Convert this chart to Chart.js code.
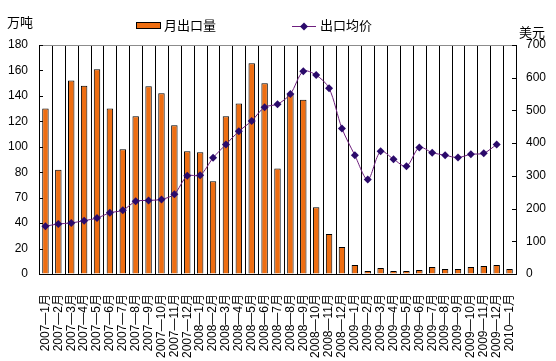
<!DOCTYPE html>
<html>
<head>
<meta charset="utf-8">
<script src="https://cdn.jsdelivr.net/npm/chart.js@4.4.1/dist/chart.umd.min.js"></script>
<style>
  html, body { margin: 0; padding: 0; background: #fff; }
  #wrap { width: 556px; height: 361px; position: relative; }
</style>
</head>
<body>
<div id="wrap"><canvas id="exportChart"></canvas></div>
<script>
// months on the x axis
const months = [
    '2007—1月', '2007—2月', '2007—3月', '2007—4月', '2007—5月', '2007—6月',
    '2007—7月', '2007—8月', '2007—9月', '2007—10月', '2007—11月', '2007—12月',
    '2008—1月', '2008—2月', '2008—3月', '2008—4月', '2008—5月', '2008—6月',
    '2008—7月', '2008—8月', '2008—9月', '2008—10月', '2008—11月', '2008—12月',
    '2009—1月', '2009—2月', '2009—3月', '2009—4月', '2009—5月', '2009—6月',
    '2009—7月', '2009—8月', '2009—9月', '2009—10月', '2009—11月', '2009—12月',
    '2010—1月'
];

// 月出口量 (万吨)
const volume = [
    130, 82, 152, 148, 161, 130, 98, 124, 147.5, 142, 117, 96.5,
    95.7, 73, 124, 134, 165.6, 150, 83, 141.5, 137, 52.4, 31.4, 21.2,
    7, 2.4, 4.7, 2.4, 2.4, 3.1, 5.5, 3.9, 3.9, 5.5, 6.3, 7, 3.9
];

// 出口均价 (美元)
const price = [
    146, 153, 156, 163, 171, 187, 195, 222, 225, 228, 244, 300,
    302, 355, 396, 436, 468, 510, 519, 550, 620, 608, 568, 445,
    363, 289, 375, 351, 329, 387, 371, 363, 356, 366, 369, 396, null
];

// left axis tick labels (the picture shows 70 in the 60 slot)
const leftTicks = [0, 20, 40, 60, 80, 100, 120, 140, 160, 180];
const leftTickLabels = ['0', '20', '40', '70', '80', '100', '120', '140', '160', '180'];
const rightTicks = [0, 100, 200, 300, 400, 500, 600, 700];

const FONT = '"Liberation Sans", Arial, "Noto Sans CJK SC", sans-serif';
const BAR_COLOR = '#EE6E12';
const LINE_COLOR = '#6E1F7E';
const POINT_COLOR = '#2B0A6B';

// vertical category lines behind the bars
const gridPlugin = {
    id: 'catGrid',
    beforeDatasetsDraw(chart) {
        const ctx = chart.ctx;
        const area = chart.chartArea;
        const n = chart.data.labels.length;
        const step = (area.right - area.left) / n;
        ctx.save();
        ctx.strokeStyle = '#000';
        ctx.lineWidth = 1;
        ctx.beginPath();
        for (let i = 1; i < n; i++) {
            const px = Math.round(area.left + i * step) + 0.5;
            ctx.moveTo(px, area.top);
            ctx.lineTo(px, area.bottom);
        }
        ctx.stroke();
        ctx.restore();
    }
};

// frame, inner ticks, unit labels and legend
const decorPlugin = {
    id: 'decor',
    afterDraw(chart) {
        const ctx = chart.ctx;
        const area = chart.chartArea;
        const yL = chart.scales.y;
        const yR = chart.scales.y1;
        ctx.save();

        // top line
        ctx.strokeStyle = '#8c8c8c';
        ctx.lineWidth = 1;
        ctx.beginPath();
        ctx.moveTo(area.left, area.top + 0.5);
        ctx.lineTo(area.right, area.top + 0.5);
        ctx.stroke();

        // inner ticks on both y axes
        ctx.strokeStyle = '#000';
        ctx.beginPath();
        leftTicks.forEach(v => {
            const py = Math.round(yL.getPixelForValue(v)) + 0.5;
            ctx.moveTo(area.left, py);
            ctx.lineTo(area.left + 4, py);
        });
        rightTicks.forEach(v => {
            const py = Math.round(yR.getPixelForValue(v)) + 0.5;
            ctx.moveTo(area.right, py);
            ctx.lineTo(area.right - 4, py);
        });
        ctx.stroke();

        // unit labels
        ctx.fillStyle = '#000';
        ctx.font = '13px ' + FONT;
        ctx.textBaseline = 'middle';
        ctx.textAlign = 'left';
        ctx.fillText('万吨', 7, 23);
        ctx.fillText('美元', 519, 33);

        // legend
        const ds = chart.data.datasets;
        ctx.fillStyle = BAR_COLOR;
        ctx.fillRect(136, 22, 25, 7);
        ctx.strokeStyle = '#000';
        ctx.strokeRect(136.5, 22.5, 24, 6);
        ctx.fillStyle = '#000';
        ctx.fillText(ds[1].label, 164, 26);

        ctx.strokeStyle = LINE_COLOR;
        ctx.beginPath();
        ctx.moveTo(292, 26.5);
        ctx.lineTo(316, 26.5);
        ctx.stroke();
        ctx.fillStyle = POINT_COLOR;
        ctx.beginPath();
        ctx.moveTo(304, 22.5);
        ctx.lineTo(308, 26.5);
        ctx.lineTo(304, 30.5);
        ctx.lineTo(300, 26.5);
        ctx.closePath();
        ctx.fill();
        ctx.fillStyle = '#000';
        ctx.fillText(ds[0].label, 320, 26);

        ctx.restore();
    }
};

function renderChart() {
    const ctx = document.getElementById('exportChart').getContext('2d');
    new Chart(ctx, {
        type: 'bar',
        data: {
            labels: months,
            datasets: [{
                type: 'line',
                label: '出口均价',
                data: price,
                yAxisID: 'y1',
                borderColor: LINE_COLOR,
                borderWidth: 1,
                tension: 0.3,
                pointStyle: 'rectRot',
                pointRadius: 4,
                pointBackgroundColor: POINT_COLOR,
                pointBorderColor: POINT_COLOR,
                pointBorderWidth: 0,
                spanGaps: false,
                order: 1
            }, {
                type: 'bar',
                label: '月出口量',
                data: volume,
                yAxisID: 'y',
                backgroundColor: BAR_COLOR,
                borderColor: '#000',
                borderWidth: 1,
                barPercentage: 0.5,
                categoryPercentage: 1.0,
                order: 2
            }]
        },
        options: {
            responsive: true,
            maintainAspectRatio: false,
            animation: false,
            layout: { padding: { top: 45, left: 0, right: 0, bottom: 0 } },
            plugins: {
                legend: { display: false },
                tooltip: { enabled: false }
            },
            scales: {
                x: {
                    offset: true,
                    grid: { display: false },
                    border: { color: '#000' },
                    ticks: {
                        autoSkip: false,
                        minRotation: 90,
                        maxRotation: 90,
                        padding: 12,
                        color: '#000',
                        font: { family: FONT, size: 12 }
                    },
                    afterFit(scale) { scale.height = 87; }
                },
                y: {
                    position: 'left',
                    min: 0,
                    max: 180,
                    afterBuildTicks(scale) { scale.ticks = leftTicks.map(v => ({ value: v })); },
                    grid: { drawOnChartArea: false, drawTicks: false },
                    border: { color: '#000' },
                    ticks: {
                        padding: 11,
                        color: '#000',
                        font: { family: FONT, size: 12 },
                        callback: (v) => leftTickLabels[leftTicks.indexOf(v)]
                    },
                    afterFit(scale) { scale.width = 39; }
                },
                y1: {
                    position: 'right',
                    min: 0,
                    max: 700,
                    afterBuildTicks(scale) { scale.ticks = rightTicks.map(v => ({ value: v })); },
                    grid: { drawOnChartArea: false, drawTicks: false },
                    border: { color: '#000' },
                    ticks: {
                        padding: 10,
                        color: '#000',
                        font: { family: FONT, size: 12 }
                    },
                    afterFit(scale) { scale.width = 40; }
                }
            }
        },
        plugins: [gridPlugin, decorPlugin]
    });
}

renderChart();
</script>
</body>
</html>
